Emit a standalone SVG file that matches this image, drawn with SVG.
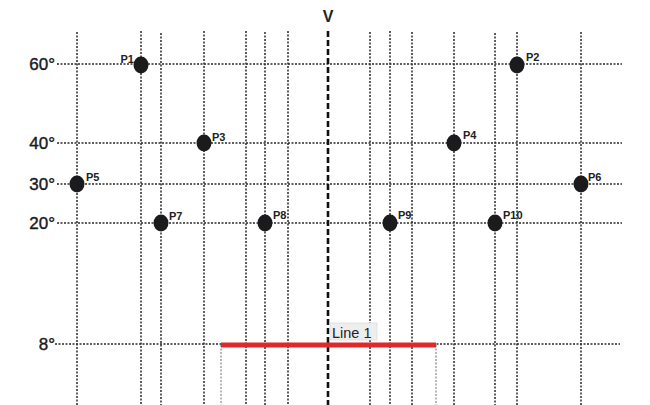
<svg xmlns="http://www.w3.org/2000/svg" width="650" height="405" viewBox="0 0 650 405">
<style>
.g{stroke:#2a2a2a;stroke-width:1.5;stroke-dasharray:2 1.5;fill:none}
.gl{stroke:#888;stroke-width:1.2;stroke-dasharray:2 1.5;fill:none}
.ax{font-family:"Liberation Sans",Arial,sans-serif;font-size:17px;fill:#1a1a1a;stroke:#1a1a1a;stroke-width:0.4;text-anchor:end}
.pl{font-family:"Liberation Sans",Arial,sans-serif;font-size:11px;font-weight:bold;fill:#222}
.dot{fill:#1b1b1e}
</style>
<rect width="650" height="405" fill="#fff"/>
<g id="grid">
<line class="g" x1="77" y1="32" x2="77" y2="405"/>
<line class="g" x1="141" y1="31" x2="141" y2="405"/>
<line class="g" x1="161" y1="33" x2="161" y2="405"/>
<line class="g" x1="204" y1="31" x2="204" y2="405"/>
<line class="g" x1="246" y1="31" x2="246" y2="405"/>
<line class="g" x1="265" y1="32" x2="265" y2="405"/>
<line class="g" x1="288" y1="31" x2="288" y2="405"/>
<line class="g" x1="370" y1="32" x2="370" y2="405"/>
<line class="g" x1="390" y1="31" x2="390" y2="405"/>
<line class="g" x1="412" y1="32" x2="412" y2="405"/>
<line class="g" x1="454" y1="32" x2="454" y2="405"/>
<line class="g" x1="495" y1="33" x2="495" y2="405"/>
<line class="g" x1="517" y1="32" x2="517" y2="405"/>
<line class="g" x1="581" y1="32" x2="581" y2="405"/>
<line class="g" x1="57" y1="64" x2="622" y2="64"/>
<line class="g" x1="57" y1="143" x2="622" y2="143"/>
<line class="g" x1="57" y1="184" x2="622" y2="184"/>
<line class="g" x1="57" y1="223" x2="622" y2="223"/>
<line class="g" x1="55" y1="344" x2="620" y2="344"/>
<line class="gl" x1="221" y1="345" x2="221" y2="405"/>
<line class="gl" x1="436" y1="345" x2="436" y2="405"/>
<line x1="328" y1="31" x2="328" y2="405" stroke="#111" stroke-width="2.6" stroke-dasharray="6 3"/>
<text x="328" y="22" font-family="Liberation Sans,Arial,sans-serif" font-size="16" font-weight="bold" fill="#222" text-anchor="middle">V</text>
<text class="ax" x="55" y="70">60°</text>
<text class="ax" x="55" y="149">40°</text>
<text class="ax" x="55" y="190">30°</text>
<text class="ax" x="55" y="229">20°</text>
<text class="ax" x="55" y="350">8°</text>
</g>
<g id="connectors">
<line id="line1" x1="221" y1="345" x2="436" y2="345" stroke="#e0282a" stroke-width="5"/>
<rect x="330" y="323" width="47" height="17" fill="#eeeeee" stroke="#dddddd" stroke-width="0.8"/>
<text x="332" y="338" font-family="Liberation Sans,Arial,sans-serif" font-size="14.5" fill="#222">Line 1</text>
</g>
<g id="P1"><ellipse class="dot" cx="141" cy="65" rx="7.5" ry="8.5"/><text class="pl" x="134" y="63" text-anchor="end">P1</text></g>
<g id="P2"><ellipse class="dot" cx="517" cy="65" rx="7.5" ry="8.5"/><text class="pl" x="526" y="61">P2</text></g>
<g id="P3"><ellipse class="dot" cx="204" cy="143" rx="7.5" ry="8.5"/><text class="pl" x="212" y="141">P3</text></g>
<g id="P4"><ellipse class="dot" cx="454" cy="143" rx="7.5" ry="8.5"/><text class="pl" x="463" y="139">P4</text></g>
<g id="P5"><ellipse class="dot" cx="77" cy="184" rx="7.5" ry="8.5"/><text class="pl" x="86" y="181">P5</text></g>
<g id="P6"><ellipse class="dot" cx="581" cy="184" rx="7.5" ry="8.5"/><text class="pl" x="588" y="181">P6</text></g>
<g id="P7"><ellipse class="dot" cx="161" cy="223" rx="7.5" ry="8.5"/><text class="pl" x="169" y="220">P7</text></g>
<g id="P8"><ellipse class="dot" cx="265" cy="223" rx="7.5" ry="8.5"/><text class="pl" x="273" y="219">P8</text></g>
<g id="P9"><ellipse class="dot" cx="390" cy="223" rx="7.5" ry="8.5"/><text class="pl" x="398" y="219">P9</text></g>
<g id="P10"><ellipse class="dot" cx="495" cy="223" rx="7.5" ry="8.5"/><text class="pl" x="503" y="219">P10</text></g>
</svg>
